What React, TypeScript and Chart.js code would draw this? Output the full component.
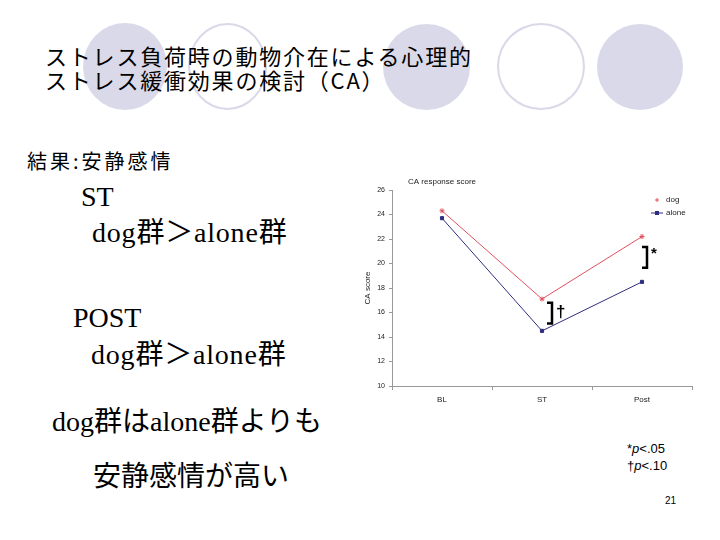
import React, { useEffect, useRef } from "react";
import { Chart, registerables } from "chart.js";

Chart.register(...registerables);

// ---- data ----
const categories = ["BL", "ST", "Post"];
const seriesNames = ["dog", "alone"];
const dogScores = [24.3, 17.1, 22.2];
const aloneScores = [23.7, 14.5, 18.5];
const yMin = 10;
const yMax = 26;
const yStep = 2;
const chartTitle = "CA response score";
const yAxisTitle = "CA score";

// significance brackets (category index, upper value, lower value, symbol)
const sigCategoryIndex = [2, 1];
const sigUpper = [21.35, 16.8];
const sigLower = [19.65, 15.1];
const sigSymbols = ["*", "\u2020"];

// slide texts
const titleLines = ["ストレス負荷時の動物介在による心理的", "ストレス緩衝効果の検討（CA）"];
const footnotes = ["p<.05", "p<.10"];
const footnoteMarks = ["*", "\u2020"];
const pageNumber = "21";

const DOG_COLOR = "#e0505e";
const ALONE_COLOR = "#2e2e80";
const CHART_FONT = "'Liberation Sans', Arial, sans-serif";

const sigOffsetPx = [5, 10];

const overlayPlugin = {
  id: "overlay",
  afterDraw(chart: any) {
    const ctx = chart.ctx;
    const xs = chart.scales.x;
    const ys = chart.scales.y;
    ctx.save();
    // chart title
    ctx.fillStyle = "#222";
    ctx.font = `8px ${CHART_FONT}`;
    ctx.textBaseline = "middle";
    ctx.textAlign = "left";
    ctx.fillText(chartTitle, 53, 10);

    // legend
    const lx = 302;
    const rows = [28, 41];
    chart.data.datasets.forEach((ds: any, i: number) => {
      const y = rows[i];
      if (i === 1) {
        ctx.strokeStyle = ds.borderColor;
        ctx.lineWidth = 1;
        ctx.beginPath();
        ctx.moveTo(lx - 6, y);
        ctx.lineTo(lx + 6, y);
        ctx.stroke();
        ctx.fillStyle = ds.borderColor;
        ctx.fillRect(lx - 2, y - 2, 4, 4);
      } else {
        ctx.strokeStyle = ds.borderColor;
        ctx.lineWidth = 1;
        ctx.beginPath();
        ctx.moveTo(lx - 2, y);
        ctx.lineTo(lx + 2, y);
        ctx.moveTo(lx, y - 2);
        ctx.lineTo(lx, y + 2);
        ctx.stroke();
      }
      ctx.fillStyle = "#222";
      ctx.font = `8px ${CHART_FONT}`;
      ctx.textAlign = "left";
      ctx.textBaseline = "middle";
      ctx.fillText(ds.label, lx + 9, y);
    });

    // significance brackets
    sigCategoryIndex.forEach((ci, i) => {
      const x = xs.getPixelForValue(ci) + sigOffsetPx[i];
      const yT = ys.getPixelForValue(sigUpper[i]);
      const yB = ys.getPixelForValue(sigLower[i]);
      ctx.strokeStyle = "#000";
      ctx.lineWidth = 2.5;
      ctx.lineJoin = "miter";
      ctx.beginPath();
      ctx.moveTo(x - 5, yT);
      ctx.lineTo(x, yT);
      ctx.lineTo(x, yB);
      ctx.lineTo(x - 5, yB);
      ctx.stroke();
      ctx.fillStyle = "#000";
      ctx.textAlign = "left";
      ctx.textBaseline = "top";
      ctx.font = `bold ${i === 0 ? 15 : 17}px ${CHART_FONT}`;
      ctx.fillText(sigSymbols[i], x + 4, yT + (i === 0 ? -1 : 1));
    });
    ctx.restore();
  },
};

function CAChart() {
  const ref = useRef<HTMLCanvasElement | null>(null);
  useEffect(() => {
    if (!ref.current) return;
    const chart = new Chart(ref.current, {
      type: "line",
      data: {
        labels: categories,
        datasets: [
          {
            label: seriesNames[0],
            data: dogScores,
            borderColor: DOG_COLOR,
            backgroundColor: DOG_COLOR,
            borderWidth: 1,
            pointStyle: "star",
            pointRadius: 2.5,
            pointBorderWidth: 1,
            tension: 0,
          },
          {
            label: seriesNames[1],
            data: aloneScores,
            borderColor: ALONE_COLOR,
            backgroundColor: ALONE_COLOR,
            borderWidth: 1,
            pointStyle: "rect",
            pointRadius: 2.2,
            pointBorderWidth: 1,
            tension: 0,
          },
        ],
      },
      options: {
        animation: false,
        responsive: false,
        maintainAspectRatio: false,
        layout: { padding: { top: 18, right: 8, left: 0, bottom: 0 } },
        plugins: {
          legend: { display: false },
          title: { display: false },
          tooltip: { enabled: false },
        },
        scales: {
          x: {
            type: "category",
            offset: true,
            grid: {
              display: true,
              offset: true,
              drawOnChartArea: false,
              drawTicks: true,
              tickLength: 4,
              color: "#999",
            },
            border: { display: true, color: "#999", width: 1 },
            ticks: {
              color: "#222",
              padding: 5,
              font: { size: 8, family: CHART_FONT },
            },
            afterFit: (s: any) => {
              s.height = 26;
            },
          },
          y: {
            min: yMin,
            max: yMax,
            grid: {
              display: true,
              drawOnChartArea: false,
              drawTicks: true,
              tickLength: 3,
              color: "#999",
            },
            border: { display: true, color: "#999", width: 1 },
            ticks: {
              stepSize: yStep,
              color: "#222",
              padding: 4,
              font: { size: 7, family: CHART_FONT },
            },
            title: {
              display: true,
              text: yAxisTitle,
              color: "#222",
              font: { size: 8, family: CHART_FONT },
              padding: { top: 8, bottom: 0 },
            },
            afterFit: (s: any) => {
              s.width = 37;
            },
          },
        },
      },
      plugins: [overlayPlugin],
    } as any);
    return () => chart.destroy();
  }, []);
  return (
    <canvas
      ref={ref}
      width={345}
      height={240}
      style={{ position: "absolute", left: 355, top: 172, width: 345, height: 240 }}
    />
  );
}

const circleFill = "#d9d9e9";

export default function App() {
  const serif = "'Liberation Serif', 'Times New Roman', 'Noto Sans CJK JP', serif";
  const gothic = "'Noto Sans CJK JP', sans-serif";
  const serifLine = (text: string, left: number, baseline: number, spacing = 0) => (
    <div
      style={{
        position: "absolute",
        left,
        top: baseline - 23.4,
        fontFamily: serif,
        fontSize: 28,
        lineHeight: "28px",
        letterSpacing: `${spacing}px`,
        whiteSpace: "nowrap",
        color: "#000",
      }}
    >
      {text}
    </div>
  );
  return (
    <div
      style={{
        position: "fixed",
        left: 0,
        top: 0,
        width: 720,
        height: 540,
        background: "#fff",
        overflow: "hidden",
      }}
    >
      {/* decorative circles */}
      <div style={{ position: "absolute", left: 83, top: 23, width: 84, height: 87, borderRadius: "50%", background: circleFill }} />
      <div style={{ position: "absolute", left: 188, top: 23, width: 79, height: 87, borderRadius: "50%", border: `2px solid ${circleFill}`, boxSizing: "border-box" }} />
      <div style={{ position: "absolute", left: 383, top: 24, width: 87, height: 86, borderRadius: "50%", background: circleFill }} />
      <div style={{ position: "absolute", left: 497, top: 23, width: 88, height: 87, borderRadius: "50%", border: `2px solid ${circleFill}`, boxSizing: "border-box" }} />
      <div style={{ position: "absolute", left: 597, top: 24, width: 86, height: 86, borderRadius: "50%", background: circleFill }} />

      {/* title */}
      {titleLines.map((t, i) => (
        <div
          key={i}
          style={{
            position: "absolute",
            left: 45,
            top: 44 + i * 24,
            fontFamily: gothic,
            fontSize: 22,
            lineHeight: "22px",
            letterSpacing: "1.8px",
            whiteSpace: "nowrap",
            color: "#000",
          }}
        >
          {t}
        </div>
      ))}

      {/* body text */}
      <div
        style={{
          position: "absolute",
          left: 27,
          top: 151,
          fontFamily: gothic,
          fontSize: 20,
          lineHeight: "20px",
          letterSpacing: "3px",
          whiteSpace: "nowrap",
          color: "#000",
        }}
      >
        結果:安静感情
      </div>
      {serifLine("ST", 81, 206)}
      {serifLine("dog群＞alone群", 92, 242, 0.8)}
      {serifLine("POST", 73, 327)}
      {serifLine("dog群＞alone群", 91, 364, 0.8)}
      {serifLine("dog群はalone群よりも", 52, 431)}
      {serifLine("安静感情が高い", 93, 486)}

      <CAChart />

      {/* footnotes */}
      {footnotes.map((f, i) => (
        <div
          key={i}
          style={{
            position: "absolute",
            left: 627,
            top: 441 + i * 17,
            fontFamily: "'Liberation Sans', Arial, sans-serif",
            fontSize: 13,
            lineHeight: "15px",
            whiteSpace: "nowrap",
            color: "#000",
          }}
        >
          {footnoteMarks[i]}
          <i>{f.slice(0, 1)}</i>
          {f.slice(1)}
        </div>
      ))}
      <div
        style={{
          position: "absolute",
          left: 665,
          top: 495,
          fontFamily: "'Liberation Sans', Arial, sans-serif",
          fontSize: 10,
          lineHeight: "12px",
          color: "#000",
        }}
      >
        {pageNumber}
      </div>
    </div>
  );
}
